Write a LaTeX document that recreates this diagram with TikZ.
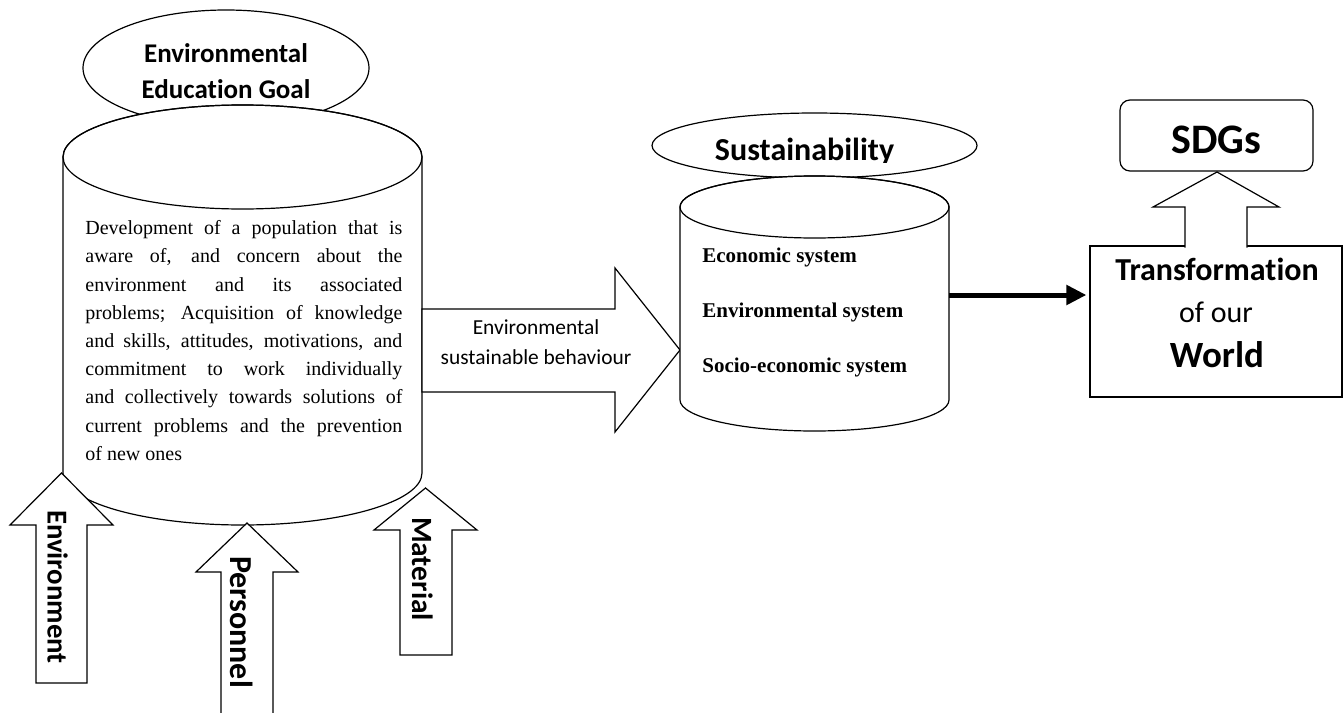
\documentclass[tikz,border=0pt]{standalone}
\usepackage{fontspec}
\setmainfont{Liberation Serif}
\newfontfamily\calibri[Ligatures=NoCommon]{Carlito}
\usetikzlibrary{arrows.meta}

\begin{document}
\begin{tikzpicture}[x=0.5pt,y=-0.5pt,
  outline/.style={draw=black,line width=0.6pt,fill=white},
  upword/.style={rotate=-90,inner sep=0pt,font=\calibri\bfseries\fontsize{#1}{17}\selectfont},
  item/.style={anchor=base west,inner sep=0pt,font=\bfseries\fontsize{10.5}{12}\selectfont}]
\useasboundingbox (0,0) rectangle (1343,712);
% goal ellipse
\draw[outline] (226,68) ellipse [x radius=143, y radius=58];
\node[align=center,font=\calibri\bfseries\fontsize{13.5}{18}\selectfont] (goal) at (226,71) {Environmental\\Education Goal};
% left cylinder
\draw[outline] (63,157) -- (63,473) arc[start angle=180,end angle=0,x radius=179.5,y radius=52] -- (422,157) arc[start angle=0,end angle=-180,x radius=179.5,y radius=52] -- cycle;
\draw[line width=0.6pt] (242.5,157) ellipse [x radius=179.5, y radius=52];
\node[anchor=north west,inner sep=0pt,text width=158.5pt,align=justify,
  font=\fontsize{10}{14.1}\selectfont] (goaltext) at (85,220.3)
  {\hyphenpenalty=10000 \tolerance=10000 Development of a population that is\linebreak aware of, and concern about the\linebreak
   environment and its associated\linebreak problems; Acquisition of knowledge\linebreak
   and skills, attitudes, motivations, and\linebreak commitment to work individually\linebreak
   and collectively towards solutions of\linebreak current problems and the prevention\linebreak
   of new ones};
% behaviour arrow
\draw[outline] (422,309) -- (615,309) -- (615,268) -- (680,350) -- (615,432) -- (615,392) -- (422,392) -- cycle;
\node[align=center,font=\calibri\fontsize{10.7}{15}\selectfont] (behav) at (536,342.5) {Environmental\\sustainable behaviour};
% sustainability
\draw[outline] (814.5,145.5) ellipse [x radius=162.5, y radius=32.5];
\begin{scope}
\clip (640,100) rectangle (990,162);
\node[anchor=base,font=\calibri\bfseries\fontsize{16}{19}\selectfont] (sust) at (804.5,160.5) {Sustainability};
\end{scope}
\draw[outline] (680,207) -- (680,400) arc[start angle=180,end angle=0,x radius=134.5,y radius=31] -- (949,207) arc[start angle=0,end angle=-180,x radius=134.5,y radius=31] -- cycle;
\draw[line width=0.6pt] (814.5,207) ellipse [x radius=134.5, y radius=31];
\node[item] (econ) at (702,262) {Economic system};
\node[item] (envsys) at (702,317) {Environmental system};
\node[item] (socio) at (702,372) {Socio-economic system};
% transformation box and SDGs
\coordinate (sustR) at (949,295);
\node[draw,line width=0.6pt,minimum width=126pt,minimum height=75.5pt] (world) at (1216,321.5) {};
\draw[line width=2.5pt,-{Triangle[length=10pt,width=9.5pt]},shorten >=1.5pt] (sustR) -- (sustR -| world.west);
\node[anchor=base,font=\calibri\bfseries\fontsize{16}{18}\selectfont] (trans) at (1217,280) {Transformation};
\node[anchor=base,font=\calibri\fontsize{15}{18}\selectfont] (ofour) at (1216,322) {of our};
\node[anchor=base,font=\calibri\bfseries\fontsize{18.5}{21}\selectfont] (worldw) at (1217,367) {World};
\node[draw,line width=0.6pt,rounded corners=5pt,minimum width=96.5pt,minimum height=35.5pt,
  text height=17.5pt,text depth=0pt,font=\calibri\bfseries\fontsize{21}{24}\selectfont] (sdgs) at (1216.5,135.5) {SDGs};
\draw[outline] (1185,247.5) -- (1185,207) -- (1153,207) -- (1217,172) -- (1279,207) -- (1247,207) -- (1247,247.5);
% inputs
\draw[outline] (36,683) -- (36,525) -- (10,525) -- (61.5,473) -- (113,525) -- (87,525) -- (87,683) -- cycle;
\node[upword=14.4] (env) at (57.5,587) {Environment};
\draw[outline] (221,720) -- (221,572) -- (196,572) -- (247,523) -- (298,572) -- (273,572) -- (273,720);
\node[upword=16] (pers) at (241.5,622) {Personnel};
\draw[outline] (400,655) -- (400,530) -- (374,530) -- (425.5,488) -- (477,530) -- (452,530) -- (452,655) -- cycle;
\node[upword=14.7] (mat) at (422.5,569) {Material};
\end{tikzpicture}
\end{document}
